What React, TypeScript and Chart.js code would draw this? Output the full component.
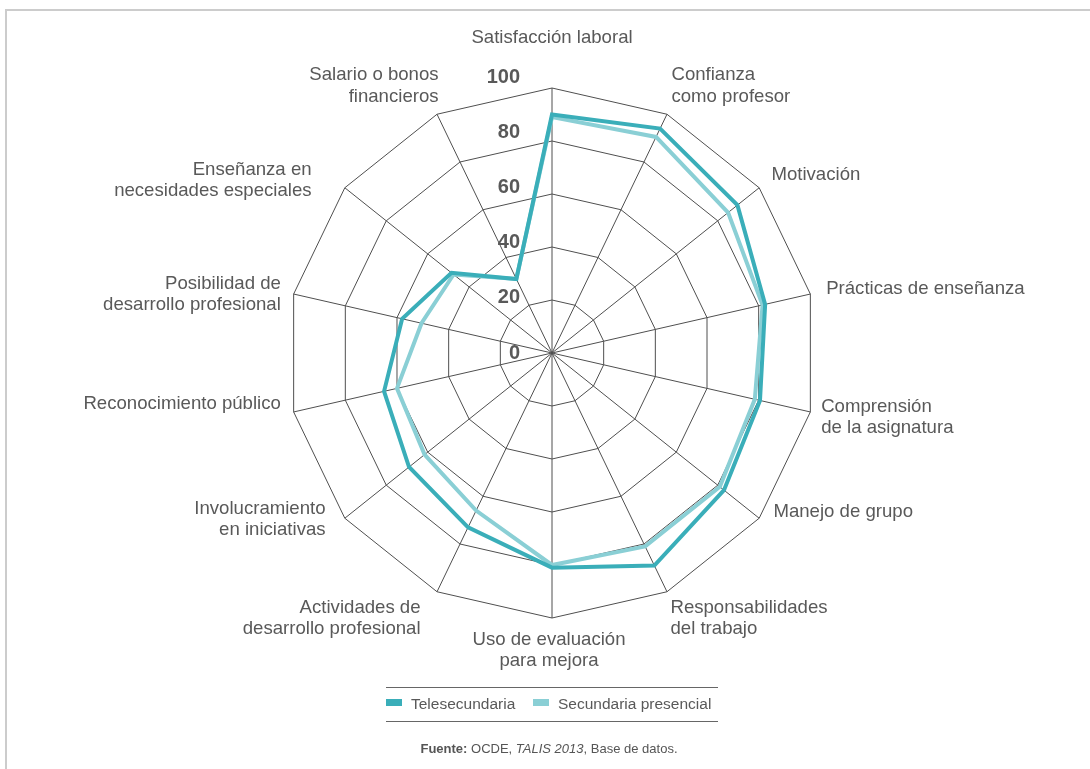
import React, { useEffect, useRef } from 'react';
import { Chart, registerables } from 'chart.js';

Chart.register(...registerables);

// ---------- data ----------
const categories: string[][] = [
  ['Satisfacción laboral'],
  ['Confianza', 'como profesor'],
  ['Motivación'],
  ['Prácticas de enseñanza'],
  ['Comprensión', 'de la asignatura'],
  ['Manejo de grupo'],
  ['Responsabilidades', 'del trabajo'],
  ['Uso de evaluación', 'para mejora'],
  ['Actividades de', 'desarrollo profesional'],
  ['Involucramiento', 'en iniciativas'],
  ['Reconocimiento público'],
  ['Posibilidad de', 'desarrollo profesional'],
  ['Enseñanza en', 'necesidades especiales'],
  ['Salario o bonos', 'financieros'],
];
const telesecundaria = [90, 94, 89.5, 82.5, 80.5, 83, 89, 81, 73, 69, 65, 58, 48.5, 31];
const presencial = [89, 90.5, 85, 81.5, 78.5, 81, 81, 80, 66, 61.5, 60, 50.5, 47.5, 31];
const tickValues = [0, 20, 40, 60, 80, 100];
const seriesNames = ['Telesecundaria', 'Secundaria presencial'];

// ---------- style ----------
const DARK = '#3aaeb9';
const LIGHT = '#8acfd5';
const GRID = '#4f4f4f';
const TEXT = '#595959';
const FONT = '"Liberation Sans", Arial, Helvetica, sans-serif';
// small per-label nudges (dx, dy) relative to the computed anchor
const labelNudges: [number, number][] = [
  [0, -31], [1, -2], [6, -1], [8, -1], [3, -1], [8, -18], [0, 0],
  [-3, 3], [-13, 0], [-13, -17], [-5, -12], [-5, 7], [-27, 11], [5, -2],
];

const overlayPlugin = {
  id: 'overlay',
  afterDraw(chart: any) {
    const scale = chart.scales.r;
    const ctx = chart.ctx as CanvasRenderingContext2D;
    ctx.save();
    // tick labels
    ctx.font = `bold 20px ${FONT}`;
    ctx.fillStyle = TEXT;
    ctx.textAlign = 'right';
    ctx.textBaseline = 'middle';
    tickValues.forEach((v) => {
      const d = scale.getDistanceFromCenterForValue(v);
      ctx.fillText(String(v), scale.xCenter - 32, scale.yCenter - d * 1.04);
    });
    // point labels
    ctx.font = `18.6px ${FONT}`;
    const lh = 21.5;
    categories.forEach((lines, i) => {
      const p = scale.getPointPosition(i, scale.drawingArea + 8);
      const a = scale.getIndexAngle(i);
      const s = Math.sin(a);
      const c = Math.cos(a);
      const h = lines.length * lh;
      const [dx, dy] = labelNudges[i] || [0, 0];
      const cy = p.y - (h / 2) * c + dy;
      ctx.textAlign = Math.abs(s) < 0.01 ? 'center' : s > 0 ? 'left' : 'right';
      lines.forEach((t, k) => {
        ctx.fillText(t, p.x + dx, cy - h / 2 + lh / 2 + k * lh);
      });
    });
    ctx.restore();
  },
};

export default function App() {
  const ref = useRef<HTMLCanvasElement | null>(null);
  useEffect(() => {
    if (!ref.current) return;
    const chart = new Chart(ref.current, {
      type: 'radar',
      data: {
        labels: categories,
        datasets: [
          {
            label: seriesNames[0],
            data: telesecundaria,
            borderColor: DARK,
            backgroundColor: DARK,
            borderWidth: 4,
            fill: false,
            pointRadius: 0,
          },
          {
            label: seriesNames[1],
            data: presencial,
            borderColor: LIGHT,
            backgroundColor: LIGHT,
            borderWidth: 4,
            fill: false,
            pointRadius: 0,
          },
        ],
      },
      options: {
        responsive: false,
        animation: false,
        layout: { padding: { left: 252, right: 238, top: 88, bottom: 151 } },
        plugins: { legend: { display: false }, tooltip: { enabled: false } },
        elements: { line: { tension: 0, borderJoinStyle: 'miter' } },
        scales: {
          r: {
            min: 0,
            max: 100,
            ticks: { display: false, stepSize: 20 },
            grid: { color: GRID, lineWidth: 1 },
            angleLines: { color: GRID, lineWidth: 1 },
            pointLabels: { display: false },
          },
        },
      } as any,
      plugins: [overlayPlugin],
    });
    return () => chart.destroy();
  }, []);

  const legendText: React.CSSProperties = {
    position: 'absolute',
    top: 694,
    height: 20,
    lineHeight: '20px',
    fontSize: 15.5,
    color: TEXT,
    fontFamily: FONT,
    whiteSpace: 'nowrap',
  };

  return (
    <div style={{ position: 'fixed', left: 0, top: 0, width: 1090, height: 769, background: '#fff', overflow: 'hidden' }}>
      <canvas ref={ref} width={1090} height={769} style={{ display: 'block', position: 'absolute', left: 0, top: 0 }} />
      <div style={{ position: 'absolute', left: 5, top: 9, width: 1085, height: 2, background: '#cccccc' }} />
      <div style={{ position: 'absolute', left: 5, top: 9, width: 2, height: 760, background: '#cccccc' }} />
      <div style={{ position: 'absolute', left: 386, top: 687, width: 332, height: 0, borderTop: '1px solid #666' }} />
      <div style={{ position: 'absolute', left: 386, top: 721, width: 332, height: 0, borderTop: '1px solid #666' }} />
      <div style={{ position: 'absolute', left: 386, top: 699, width: 16, height: 7, background: DARK }} />
      <div style={{ ...legendText, left: 411 }}>{seriesNames[0]}</div>
      <div style={{ position: 'absolute', left: 533, top: 699, width: 16, height: 7, background: LIGHT }} />
      <div style={{ ...legendText, left: 558 }}>{seriesNames[1]}</div>
      <div
        style={{
          position: 'absolute',
          left: 0,
          top: 741,
          width: 1098,
          textAlign: 'center',
          fontSize: 13,
          color: '#555',
          fontFamily: FONT,
        }}
      >
        <b>Fuente:</b> OCDE, <i>TALIS 2013</i>, Base de datos.
      </div>
    </div>
  );
}
